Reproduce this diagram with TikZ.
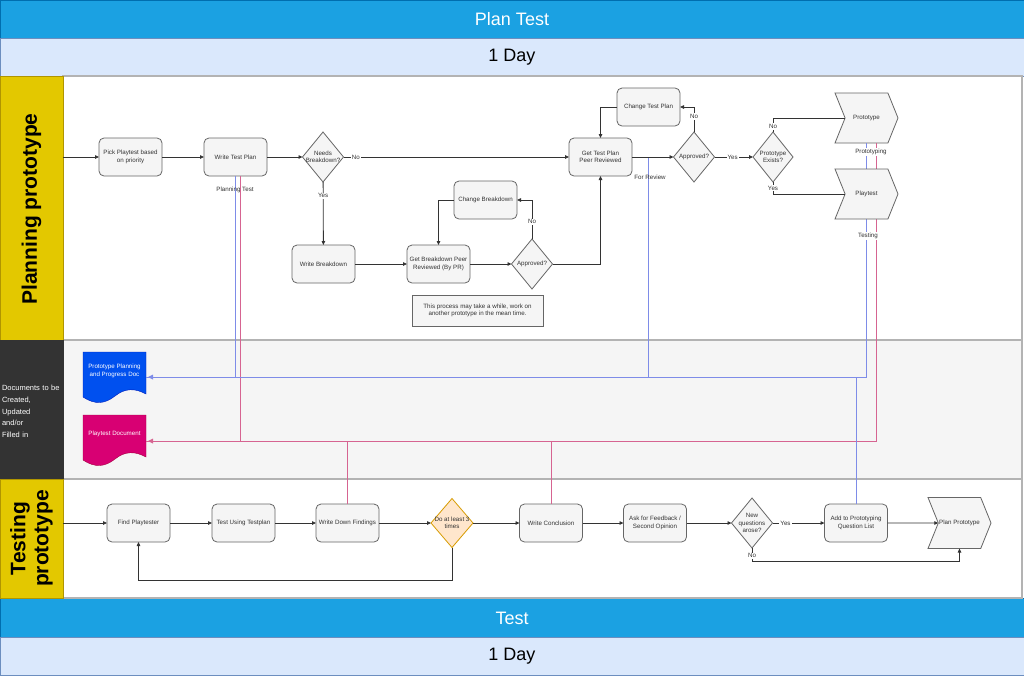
\documentclass[tikz,border=0pt]{standalone}
\usepackage{fontspec}
\setmainfont{Liberation Sans}
\usetikzlibrary{shapes.geometric,shapes.symbols,arrows.meta}
\definecolor{c1ba1e2}{RGB}{27,161,226}
\definecolor{c006eaf}{RGB}{0,110,175}
\definecolor{cdae8fc}{RGB}{218,232,252}
\definecolor{c6c8ebf}{RGB}{108,142,191}
\definecolor{ce3c800}{RGB}{227,200,0}
\definecolor{cb09500}{RGB}{176,149,0}
\definecolor{c333333}{RGB}{51,51,51}
\definecolor{c666666}{RGB}{102,102,102}
\definecolor{cf5f5f5}{RGB}{245,245,245}
\definecolor{cb3b3b3}{RGB}{179,179,179}
\definecolor{c0050ef}{RGB}{0,80,239}
\definecolor{c001dbc}{RGB}{0,29,188}
\definecolor{cd80073}{RGB}{216,0,115}
\definecolor{ca50040}{RGB}{165,0,64}
\definecolor{cffe6cc}{RGB}{255,230,204}
\definecolor{cd79b00}{RGB}{215,155,0}
\definecolor{c7e8ce8}{RGB}{126,140,232}
\definecolor{cd9719a}{RGB}{214,100,145}

\begin{document}
\begin{tikzpicture}[y=1pt, x=1pt, yscale=-1, inner sep=0pt, outer sep=0pt,
  txt/.style={font=\fontsize{6.2}{7.4}\selectfont, text=c333333, align=center},
  box/.style={txt, draw=c666666, fill=cf5f5f5, rounded corners=5pt,
    minimum width=63pt, minimum height=38pt, line width=0.8pt},
  dia/.style={diamond, draw=c666666, fill=cf5f5f5, minimum width=41pt,
    minimum height=50pt, line width=0.8pt},
  stepshape/.style={txt, signal, signal to=east, signal from=west,
    signal pointer angle=136, draw=c666666, fill=cf5f5f5,
    minimum width=63pt, minimum height=50pt, line width=0.8pt},
  arr/.style={draw=c333333, line width=0.8pt, -{Triangle[length=4pt,width=3.5pt]}},
  con/.style={draw=c333333, line width=0.8pt},
  lbl/.style={txt, fill=white, inner sep=1pt},
  bl/.style={draw=c7e8ce8, line width=1pt},
  rd/.style={draw=cd9719a, line width=1pt},
  band/.style={font=\fontsize{18}{20}\selectfont},
  lane/.style={font=\bfseries\fontsize{21}{23}\selectfont, rotate=90, align=center}]
  \useasboundingbox (0,0) rectangle (1024,675);

  % header and footer bands
  \path[draw=c006eaf,fill=c1ba1e2] (0,0) rectangle (1024,38);
  \path[draw=c6c8ebf,fill=cdae8fc] (0,38) rectangle (1024,76);
  \path[draw=c006eaf,fill=c1ba1e2] (0,598) rectangle (1024,637);
  \path[draw=c6c8ebf,fill=cdae8fc] (0,637) rectangle (1024,675);
  \node[band,text=white] (htitle) at (512,19) {Plan Test};
  \node[band] (hday) at (512,57) {1 Day};
  \node[band,text=white] (ftitle) at (512,618) {Test};
  \node[band] (fday) at (512,656) {1 Day};

  % lanes
  \path[draw=cb3b3b3,fill=white,line width=1.5pt] (63,76) rectangle (1022,340);
  \path[draw=cb3b3b3,fill=cf5f5f5,line width=1.5pt] (63,340) rectangle (1022,479);
  \path[draw=cb3b3b3,fill=white,line width=1.5pt] (63,479) rectangle (1022,598);
  \path[draw=cb09500,fill=ce3c800] (0,76) rectangle (63,340);
  \path[draw=c333333,fill=c333333] (0,340) rectangle (63,479);
  \path[draw=cb09500,fill=ce3c800] (0,479) rectangle (63,598);
  \node[lane] (lplanning) at (31.5,209) {Planning prototype};
  \node[lane] (ltesting) at (31.5,538.5) {Testing\\prototype};
  \node[anchor=west, text width=60pt, text=white, align=left,
    font=\fontsize{7.5}{11.7}\selectfont] (ldocs) at (2,411.5)
    {Documents to be\\Created,\\Updated\\and/or\\Filled in};

  % documents
  \path[draw=c001dbc,fill=c0050ef] (83,352) -- (146,352) -- (146,394)
    .. controls (135,388) and (125,388) .. (115,396)
    .. controls (105,404) and (95,405) .. (83,397) -- cycle;
  \path[draw=ca50040,fill=cd80073] (83,415) -- (146,415) -- (146,457)
    .. controls (135,451) and (125,451) .. (115,459)
    .. controls (105,467) and (95,468) .. (83,460) -- cycle;
  \node[minimum width=63pt,minimum height=50pt] (ppdoc) at (114.5,377) {};
  \node[minimum width=63pt,minimum height=50pt] (pdoc) at (114.5,441) {};
  \node[txt,text=white] (ppdoctxt) at (114.5,371) {Prototype Planning\\and Progress Doc};
  \node[txt,text=white] (pdoctxt) at (114.5,434) {Playtest Document};

  % planning lane
  \coordinate (inplan) at (63,157);
  \node[box] (pick) at (130.5,157) {Pick Playtest based\\on priority};
  \node[box] (wtp) at (235.5,157) {Write Test Plan};
  \node[dia,label={[txt]center:Needs\\Breakdown?}] (needs) at (323,157) {};
  \node[box] (wbd) at (323.5,264) {Write Breakdown};
  \node[box] (gbr) at (438.5,264) {Get Breakdown Peer\\Reviewed (By PR)};
  \node[dia,label={[txt]center:Approved?}] (appb) at (532,264) {};
  \node[box] (chb) at (485.5,200) {Change Breakdown};
  \node[box] (gtp) at (600.5,157) {Get Test Plan\\Peer Reviewed};
  \node[box] (ctp) at (648.5,107) {Change Test Plan};
  \node[dia,label={[txt]center:Approved?}] (appt) at (694,157) {};
  \node[dia,minimum width=40pt,label={[txt]center:Prototype\\Exists?}] (pex) at (773,157) {};
  \node[txt,draw=c666666,fill=cf5f5f5,line width=0.8pt,minimum width=131pt,
    minimum height=31pt] (note) at (477.5,310.5)
    {This process may take a while, work on\\another prototype in the mean time.};
  \node[stepshape] (proto) at (866.5,118) {Prototype};

  % testing lane
  \coordinate (intest) at (63,523);
  \node[box] (find) at (138.5,523) {Find Playtester};
  \node[box] (tut) at (243.5,523) {Test Using Testplan};
  \node[box] (wdf) at (347.5,523) {Write Down Findings};
  \node[dia,draw=cd79b00,fill=cffe6cc,minimum width=42pt,minimum height=49pt,
    label={[txt]center:Do at least 3\\times}] (three) at (452,523) {};
  \node[box] (wcon) at (551,523) {Write Conclusion};
  \node[box] (ask) at (655,523) {Ask for Feedback /\\Second Opinion};
  \node[dia,label={[txt]center:New\\questions\\arose?}] (newq) at (752,523) {};
  \node[box] (addq) at (856,523) {Add to Prototyping\\Question List};
  \node[stepshape,minimum height=51pt] (plan) at (959.5,523) {Plan Prototype};

  % document links
  \coordinate (rev) at (648,157);
  \path[bl] ([xshift=-0.5pt]wtp.south) |- (ppdoc.east);
  \path[rd] ([xshift=4.5pt]wtp.south) |- (pdoc.east);
  \path[bl] (rev) |- (ppdoc.east);
  \path[bl] ([xshift=-0.5pt]proto.south) |- (ppdoc.east);
  \path[rd] ([xshift=9.5pt]proto.south) |- (pdoc.east);
  \path[bl] (addq.north) -- (addq.north |- ppdoc.east);
  \path[rd] (wcon.north) -- (wcon.north |- pdoc.east);
  \path[rd] (wdf.north) -- (wdf.north |- pdoc.east);
  \path[fill=c7e8ce8] (148,377) -- (153,374.5) -- (153,379.5) -- cycle;
  \path[fill=cd9719a] (148,441) -- (153,438.5) -- (153,443.5) -- cycle;
  \node[stepshape] (ptest) at (866.5,194) {Playtest};
  \node[txt] (lplantest) at (235,190) {Planning Test};
  \node[txt] (lreview) at (650,177) {For Review};
  \node[lbl] (lproto) at (871,152) {Prototyping};
  \node[lbl] (ltest) at (868,236) {Testing};

  % planning flow
  \path[arr] (inplan) -- (pick);
  \path[arr] (pick) -- (wtp);
  \path[arr] (wtp) -- (needs);
  \path[arr] (needs) -- node[lbl,pos=0.055] {No} (gtp);
  \path[arr] (needs) -- node[lbl,pos=0.22] {Yes} (wbd);
  \path[arr] (wbd) -- (gbr);
  \path[arr] (gbr) -- (appb);
  \path[arr] (appb.east) -| (gtp.south);
  \path[arr] (appb.north) |- node[lbl,pos=0.22] {No} (chb.east);
  \path[arr] (chb.west) -| (gbr.north);
  \path[arr] (gtp) -- (appt);
  \path[arr] (appt.north) |- node[lbl,pos=0.31] {No} (ctp.east);
  \path[arr] (ctp.west) -| (gtp.north);
  \path[arr] (appt) -- node[lbl,pos=0.47] {Yes} (pex);
  \path[con] (pex.north) |- node[lbl,pos=0.2] {No} (proto.west);
  \path[con] (pex.south) |- node[lbl,pos=0.25] {Yes} (ptest.west);

  % testing flow
  \path[arr] (intest) -- (find);
  \path[arr] (find) -- (tut);
  \path[arr] (tut) -- (wdf);
  \path[arr] (wdf) -- (three);
  \path[arr] (three) -- (wcon);
  \path[arr] (wcon) -- (ask);
  \path[arr] (ask) -- (newq);
  \path[arr] (newq) -- node[lbl,pos=0.25] {Yes} (addq);
  \path[arr] (addq) -- (plan);
  \path[arr] (three.south) -- ++(0,33) -| (find.south);
  \path[arr] (newq.south) -- node[lbl,pos=0.6] {No} ++(0,13) -| (plan.south);
\end{tikzpicture}
\end{document}
